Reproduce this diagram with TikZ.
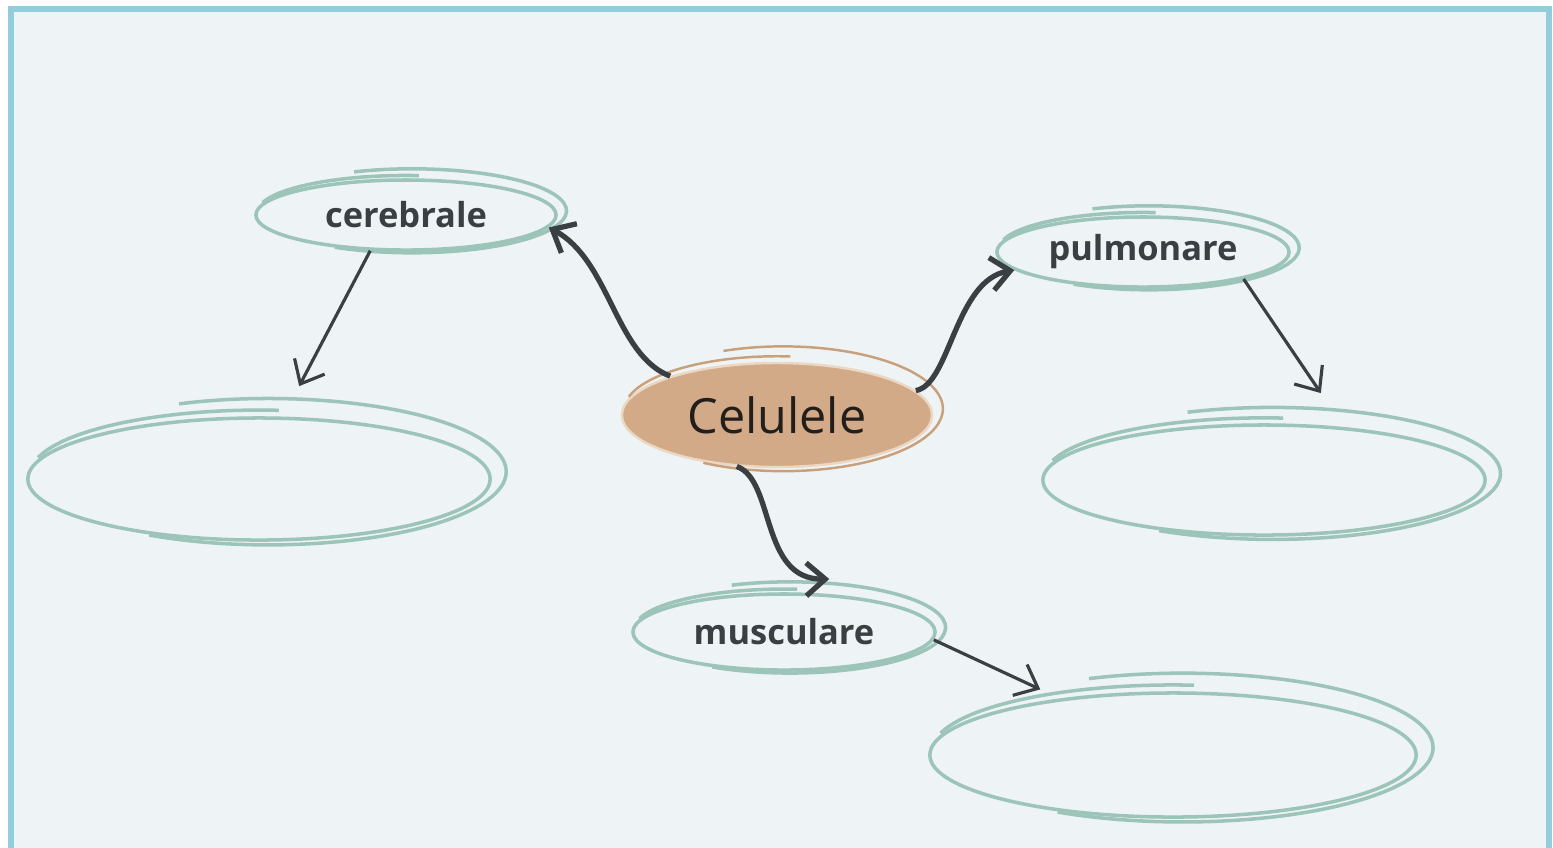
\documentclass[tikz,border=0pt]{standalone}
\usepackage{fontspec}
\setmainfont{Open Sans}
\usetikzlibrary{shapes.geometric, arrows.meta}
\definecolor{inkcolor}{HTML}{3A3F44}
\definecolor{hubtext}{HTML}{221E1B}
\definecolor{framecolor}{HTML}{93CDDB}
\definecolor{panelfill}{HTML}{EEF4F6}
\definecolor{ringcolor}{HTML}{9CC4B9}
\definecolor{hubfill}{HTML}{D3AA87}
\definecolor{hubline}{HTML}{C8A07C}
\definecolor{hubcream}{HTML}{EBD8C2}

% extra hand-drawn strokes round a ring: centre x, centre y, x radius, y radius
\newcommand{\sketchmarks}[5][sketchline]{%
  \draw[#1] ({#2+0.04*#4},{#3-0.12*#5}) ++(-112:{1.03*#4} and {1.2*#5})
    arc[start angle=-112, end angle=120, x radius={1.03*#4}, y radius={1.2*#5}];
  \draw[#1] ({#2},{#3-0.08*#5}) ++(-165:{0.99*#4} and {1.05*#5})
    arc[start angle=-165, end angle=-85, x radius={0.99*#4}, y radius={1.05*#5}];
}

\begin{document}
\begin{tikzpicture}[x=0.01cm, y=-0.01cm]

\tikzset{
  ringnode/.style={ellipse, draw=ringcolor, line width=1pt, inner sep=0pt,
    font=\fontsize{9.8}{12}\selectfont\bfseries, text=inkcolor},
  hubnode/.style={ellipse, draw=hubcream, line width=0.7pt, fill=hubfill, inner sep=0pt,
    font=\fontsize{13.8}{16}\selectfont, text=hubtext},
  sketchline/.style={ringcolor, line width=1pt},
  hubmark/.style={hubline, line width=0.7pt},
  flowline/.style={-{Straight Barb[length=1.9mm, width=3.3mm]}, inkcolor, line width=1.5pt},
  pointline/.style={-{Straight Barb[length=2mm, width=3.4mm]}, inkcolor, line width=0.9pt},
}

% ---- frame ----
\path[use as bounding box, clip] (0,0) rectangle (1553,847);
\draw[draw=framecolor, fill=panelfill, line width=0.06cm] (11,9) rectangle (1549,900);

% ---- centre ----
\node[hubnode, minimum width=3.1cm, minimum height=1.04cm] (cel) at (777,415) {Celulele};
\sketchmarks[hubmark]{777}{415}{155}{52}

% ---- labelled rings ----
\node[ringnode, minimum width=3cm, minimum height=0.7cm] (cer) at (406,215) {cerebrale};
\sketchmarks{406}{215}{150}{35}
\node[ringnode, minimum width=2.92cm, minimum height=0.7cm] (pul) at (1143,252) {pulmonare};
\sketchmarks{1143}{252}{146}{35}
\node[ringnode, minimum width=3.02cm, minimum height=0.76cm] (mus) at (784,632) {musculare};
\sketchmarks{784}{632}{151}{38}

% ---- empty rings ----
\node[ringnode, minimum width=4.62cm, minimum height=1.22cm] (bl) at (259,479) {};
\sketchmarks{259}{479}{231}{61}
\node[ringnode, minimum width=4.42cm, minimum height=1.1cm] (br) at (1264,480) {};
\sketchmarks{1264}{480}{221}{55}
\node[ringnode, minimum width=4.86cm, minimum height=1.24cm] (bb) at (1173,755) {};
\sketchmarks{1173}{755}{243}{62}

% ---- connectors ----
\draw[flowline] (cel.160) .. controls (615,355) and (610,260) .. (cer.-5);
\draw[flowline] (cel.10) .. controls (950,385) and (955,280) .. (pul.188);
\draw[flowline] (cel.232) .. controls (775,480) and (760,580) .. ([yshift=1.5mm]mus.40);
\draw[pointline] (cer.225) -- ([yshift=3.1mm]bl.57);
\draw[pointline] (pul.-15) -- ([yshift=3.2mm]br.44);
\draw[pointline] (mus.-3) -- ([yshift=1.2mm]bb.158);

\end{tikzpicture}
\end{document}
